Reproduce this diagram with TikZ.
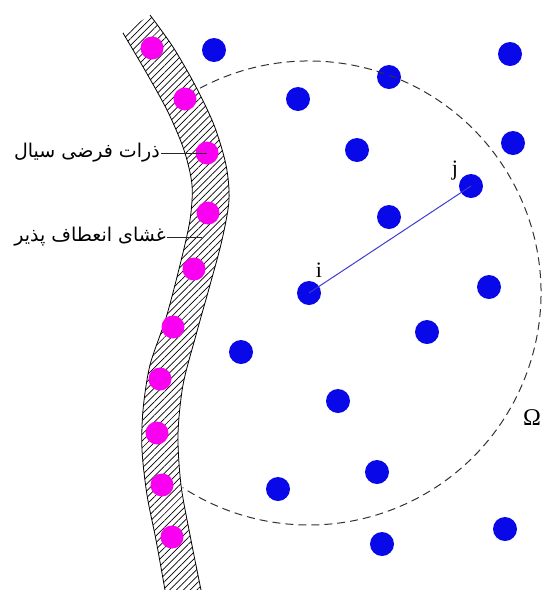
\documentclass[tikz,border=0pt]{standalone}
\usepackage{fontspec}
\setmainfont{Liberation Serif}
\newfontfamily\farsifont[Script=Arabic]{DejaVu Sans}
\TeXXeTstate=1
\usetikzlibrary{patterns.meta}
\definecolor{dotblue}{RGB}{8,8,232}
\definecolor{linkblue}{RGB}{60,60,210}
\definecolor{ghostpink}{RGB}{250,0,240}
\tikzset{
  particle/.style={circle, fill=dotblue, minimum size=24pt, inner sep=0pt},
  ghost/.style={circle, fill=ghostpink, minimum size=23pt, inner sep=0pt},
  farsi/.style={font=\farsifont\fontsize{19}{22}\selectfont, inner sep=1pt},
  leader/.style={black!85, line width=0.8pt},
}
\begin{document}
\begin{tikzpicture}[x=1pt, y=-1pt]
    \useasboundingbox (0,0) rectangle (542,590);
    % Membrane band (hatched)
    \fill[pattern={Lines[angle=45, distance=4.8pt, line width=0.7pt]}]
        plot[smooth] coordinates {(123,33) (146,72) (168,112) (184,150) (192,185) (190,220) (180,265) (166,318) (150,365) (143,410) (142,450) (147,495) (156,540) (165,590)}
        -- plot[smooth] coordinates {(201,590) (190,535) (181,485) (178,435) (183,385) (196,335) (210,285) (222,240) (229,200) (226,165) (214,125) (195,85) (173,47) (150,15)}
        -- cycle;
    \draw[line width=0.8pt] plot[smooth] coordinates {(123,33) (146,72) (168,112) (184,150) (192,185) (190,220) (180,265) (166,318) (150,365) (143,410) (142,450) (147,495) (156,540) (165,590)};
    \draw[line width=0.8pt] plot[smooth] coordinates {(150,15) (173,47) (195,85) (214,125) (226,165) (229,200) (222,240) (210,285) (196,335) (183,385) (178,435) (181,485) (190,535) (201,590)};

    % Fictitious fluid particles on the membrane
    \foreach \n/\x/\y in {f1/152/48, f2/185/99, f3/207/153, f4/208/213, f5/194/269,
                          f6/173/327, f7/160/379, f8/157/433, f9/162/485, f10/172/537}
        \node[ghost] (\n) at (\x,\y) {};

    % Fluid particles
    \foreach \n/\x/\y in {b1/214/50, b2/298/99, b3/389/77, b4/510/54, b5/357/150,
                          b6/513/143, j/471/186, b8/389/217, i/309/293, b10/489/287,
                          b11/427/332, b12/241/352, b13/338/401, b14/377/472,
                          b15/278/489, b16/505/529, b17/382/544}
        \node[particle] (\n) at (\x,\y) {};

    % Support domain of particle i
    \draw[black!80, line width=1pt, dash pattern=on 8pt off 5pt]
        (i.center) ++(-118:232) arc[start angle=-118, end angle=123, radius=232];
    \draw[linkblue, line width=1pt] (i.center) -- (j.center);

    \node[font=\fontsize{22}{22}\selectfont] (lbli) at (319,270) {i};
    \node[font=\fontsize{22}{22}\selectfont] (lblj) at (455,171) {j};
    \node[font=\fontsize{24}{24}\selectfont] (lblomega) at (532,418) {Ω};

    % Labels
    \node[farsi, anchor=east] (lblghost) at (161,153) {\beginR ذرات فرضی سیال\endR};
    \draw[leader] (lblghost.east) -- (f3.center);
    \coordinate (membpt) at (202,237);
    \node[farsi, anchor=east] (lblmemb) at (167,237) {\beginR غشای انعطاف پذیر\endR};
    \draw[leader] (lblmemb.east) -- (membpt);
\end{tikzpicture}
\end{document}
